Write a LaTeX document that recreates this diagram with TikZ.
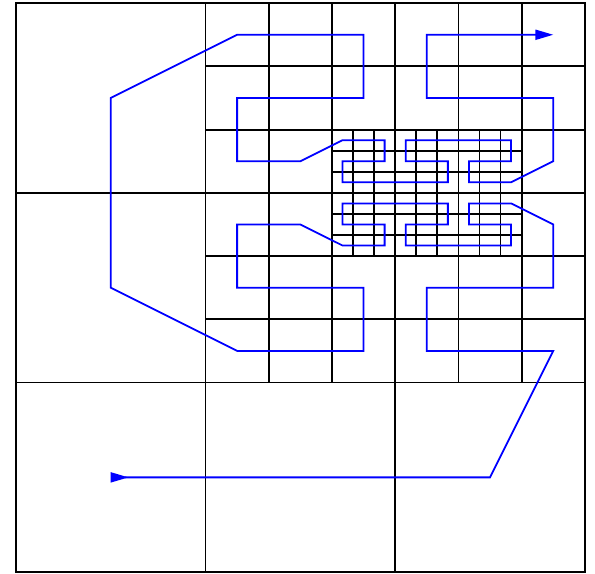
\documentclass[tikz,border=0pt]{standalone}
\usetikzlibrary{arrows.meta}
\begin{document}
\begin{tikzpicture}[x=1cm, y=1cm,
        gridline/.style={black, line width=0.8pt},
        peano/.style={blue, line width=0.8pt, line join=miter}]
        \useasboundingbox (-0.25,-0.02) rectangle (9.16,9.05);
    % Draw coarse and fine grids
        \draw[gridline, step=3] (0,0) grid (9,9);
        \draw[gridline, step=1] (3,3) grid (9,9);
        \draw[gridline, line width=1.1pt] (0,0) rectangle (9,9);
    % Draw finest grid
        \foreach \k in {0,...,9} {
            \pgfmathsetmacro{\xk}{5 + \k/3}
            \draw[gridline] (\xk,5) -- (\xk,7);
        }
        \foreach \k in {0,...,6} {
            \pgfmathsetmacro{\yk}{5 + \k/3}
            \draw[gridline] (5,\yk) -- (8,\yk);
        }
    % Draw curve through the cell centres
        \draw[peano, {Triangle[reversed, length=8pt, width=4.5pt]}-{Triangle[length=8pt, width=4.5pt]}]
            (1.5,1.5) -- (7.5,1.5) -- (8.5,3.5) -- (6.5,3.5) -- (6.5,4.5) -- (8.5,4.5) -- (8.5,5.5)
            -- (7.833,5.833) -- (7.167,5.833) -- (7.167,5.5) -- (7.833,5.5) -- (7.833,5.167)
            -- (6.167,5.167) -- (6.167,5.5) -- (6.833,5.5) -- (6.833,5.833)
            -- (5.167,5.833) -- (5.167,5.5) -- (5.833,5.5) -- (5.833,5.167) -- (5.167,5.167)
            -- (4.5,5.5) -- (3.5,5.5) -- (3.5,4.5) -- (5.5,4.5) -- (5.5,3.5) -- (3.5,3.5)
            -- (1.5,4.5) -- (1.5,7.5) -- (3.5,8.5) -- (5.5,8.5) -- (5.5,7.5) -- (3.5,7.5)
            -- (3.5,6.5) -- (4.5,6.5) -- (5.167,6.833) -- (5.833,6.833) -- (5.833,6.5)
            -- (5.167,6.5) -- (5.167,6.167) -- (6.833,6.167) -- (6.833,6.5) -- (6.167,6.5)
            -- (6.167,6.833) -- (7.833,6.833) -- (7.833,6.5) -- (7.167,6.5) -- (7.167,6.167)
            -- (7.833,6.167) -- (8.5,6.5) -- (8.5,7.5) -- (6.5,7.5) -- (6.5,8.5) -- (8.5,8.5);
\end{tikzpicture}
\end{document}
